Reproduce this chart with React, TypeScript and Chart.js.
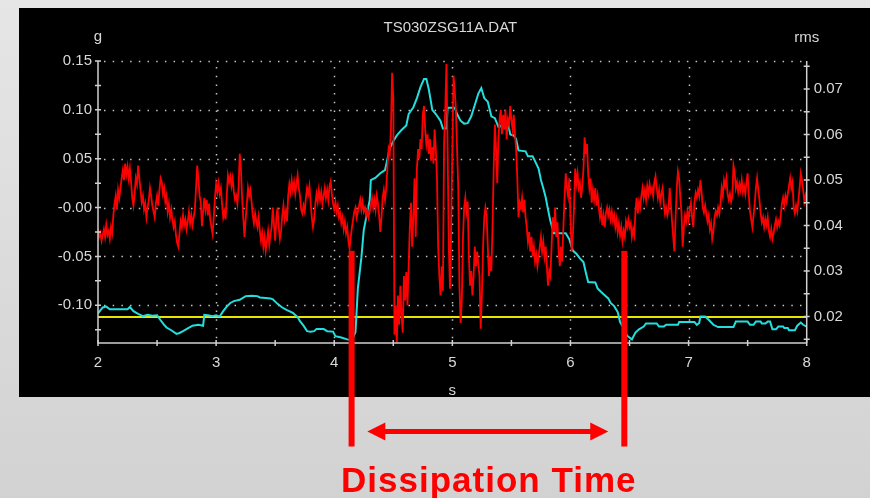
import React, { useEffect, useRef } from "react";
import { Chart, registerables } from "chart.js";

Chart.register(...registerables);

// ---------- data ----------
const SAMPLE_START = 2.0; // s
const SAMPLE_STEP = 0.01; // s

// acceleration signal (g), one value per 0.01 s from 2.00 s to 8.00 s
const accelG: number[] = [
  -0.022, -0.030, -0.026, -0.034, -0.028, -0.022, -0.030, -0.018, -0.028, -0.024,
  -0.032, -0.020, -0.026, -0.008, 0.004, 0.012, -0.002, 0.018, 0.010, 0.020,
  0.030, 0.038, 0.028, 0.045, 0.034, 0.042, 0.030, 0.040, 0.026, 0.010,
  0.002, 0.014, 0.030, 0.024, 0.043, 0.030, 0.018, 0.006, 0.012, -0.002,
  0.004, -0.010, 0.000, 0.008, 0.020, 0.012, 0.002, -0.004, -0.010, 0.004,
  0.012, 0.002, 0.018, 0.030, 0.026, 0.014, 0.020, 0.006, 0.012, -0.004,
  0.004, -0.010, -0.002, -0.012, -0.020, -0.014, -0.028, -0.036, -0.040, -0.026,
  -0.014, -0.020, -0.008, -0.018, -0.012, -0.022, -0.014, -0.004, -0.016, -0.008,
  -0.018, -0.010, -0.002, 0.020, 0.043, 0.030, 0.012, 0.006, -0.019, -0.004,
  0.010, -0.002, 0.008, -0.008, 0.004, -0.012, -0.020, -0.027, -0.010, 0.010,
  0.024, 0.016, 0.025, 0.014, 0.020, 0.004, -0.010, -0.004, -0.012, 0.012,
  0.033, 0.026, 0.032, 0.022, 0.030, 0.016, 0.008, 0.012, 0.004, 0.020,
  0.055, 0.040, 0.010, -0.010, -0.030, -0.012, 0.004, 0.020, 0.012, 0.018,
  0.006, -0.008, -0.016, -0.006, -0.014, -0.020, -0.010, -0.024, -0.034, -0.026,
  -0.040, -0.030, -0.044, -0.034, -0.024, -0.038, -0.028, -0.020, 0.000, -0.018,
  -0.034, -0.010, 0.000, -0.020, -0.032, -0.024, -0.008, 0.002, -0.012, -0.004,
  -0.014, 0.012, 0.024, 0.016, 0.028, 0.018, 0.026, 0.014, 0.024, 0.033,
  0.020, 0.012, -0.002, -0.006, 0.002, -0.004, 0.010, 0.020, 0.014, 0.022,
  0.006, -0.010, -0.020, -0.012, 0.004, 0.014, 0.006, 0.018, 0.008, 0.016,
  0.004, 0.012, 0.020, 0.010, 0.018, 0.008, 0.022, 0.027, 0.014, 0.004,
  -0.002, 0.006, -0.004, 0.002, -0.010, -0.006, -0.016, -0.010, -0.022, -0.014,
  -0.026, -0.020, -0.034, -0.042, -0.030, -0.020, -0.012, -0.004, 0.000, -0.010,
  -0.004, 0.002, 0.008, -0.002, 0.006, -0.004, 0.000, -0.008, -0.002, -0.010,
  -0.004, 0.002, 0.010, 0.000, 0.008, -0.002, 0.012, 0.004, -0.008, -0.025,
  -0.010, 0.010, 0.018, 0.008, 0.020, 0.040, 0.060, 0.055, 0.080, 0.138,
  0.112, -0.130, -0.100, -0.138, -0.090, -0.120, -0.080, -0.110, -0.128, -0.070,
  -0.095, -0.066, -0.100, -0.060, -0.020, 0.005, -0.040, -0.010, 0.030, -0.030,
  0.040, 0.060, 0.050, 0.070, 0.060, 0.095, 0.104, 0.080, 0.065, 0.075,
  0.055, 0.070, 0.048, 0.062, 0.045, 0.080, 0.060, 0.030, -0.040, -0.070,
  -0.090, -0.060, -0.085, 0.066, 0.100, 0.147, 0.060, -0.040, -0.083, -0.020,
  0.060, 0.135, 0.120, 0.100, 0.060, 0.020, -0.080, -0.118, -0.095, -0.030,
  0.000, 0.010, -0.004, 0.006, -0.050, -0.080, -0.065, -0.090, -0.070, -0.040,
  -0.060, -0.045, -0.058, -0.070, -0.124, -0.090, -0.040, -0.010, 0.000, -0.008,
  -0.040, -0.070, -0.050, -0.065, -0.020, 0.040, 0.085, 0.060, 0.025, 0.070,
  0.090, 0.100, 0.075, 0.095, 0.080, 0.100, 0.070, 0.090, 0.085, 0.104,
  0.090, 0.080, 0.095, 0.075, 0.060, 0.030, -0.010, 0.005, 0.000, 0.010,
  -0.005, 0.008, -0.010, -0.020, -0.035, -0.025, -0.045, -0.030, -0.050, -0.040,
  -0.055, -0.048, -0.060, -0.050, -0.040, -0.030, -0.045, -0.035, -0.050, -0.040,
  -0.060, -0.080, -0.065, -0.070, -0.040, -0.010, -0.025, 0.000, -0.030, -0.015,
  -0.045, -0.060, -0.040, -0.055, -0.020, 0.010, 0.035, 0.020, 0.012, 0.030,
  -0.010, -0.045, -0.030, 0.000, 0.040, 0.025, 0.035, 0.020, 0.025, 0.010,
  0.022, 0.040, 0.072, 0.055, 0.065, 0.035, 0.020, 0.030, 0.005, 0.018,
  0.008, 0.020, 0.002, 0.012, 0.000, -0.010, -0.002, -0.018, -0.008, -0.020,
  -0.006, 0.000, -0.008, -0.002, -0.012, -0.004, -0.014, -0.008, -0.020, -0.012,
  -0.025, -0.016, -0.028, -0.020, -0.034, -0.024, -0.030, -0.014, -0.020, -0.012,
  -0.020, -0.016, -0.030, -0.022, -0.028, -0.004, 0.010, -0.006, 0.006, 0.000,
  0.012, 0.020, 0.010, 0.018, 0.008, 0.022, 0.014, 0.024, 0.016, 0.020,
  0.012, 0.026, 0.032, 0.020, 0.010, 0.018, 0.006, 0.014, 0.020, 0.004,
  -0.006, 0.000, -0.008, -0.002, 0.020, 0.004, -0.014, -0.030, -0.045, -0.010,
  0.020, 0.037, 0.030, 0.010, -0.005, -0.040, -0.020, -0.008, -0.014, -0.004,
  -0.012, -0.002, 0.005, -0.010, -0.020, 0.006, 0.015, 0.010, 0.018, 0.012,
  0.028, 0.016, 0.000, -0.005, 0.002, -0.006, -0.014, -0.008, -0.022, -0.016,
  -0.032, -0.024, -0.010, -0.004, -0.008, 0.000, -0.006, 0.004, 0.020, 0.012,
  0.028, 0.022, 0.030, 0.014, 0.008, 0.014, 0.006, 0.012, 0.043, 0.036,
  0.020, 0.026, 0.016, 0.024, 0.018, 0.028, 0.016, 0.022, 0.014, 0.026,
  0.035, 0.012, -0.004, -0.012, -0.020, -0.008, 0.004, 0.020, 0.030, 0.018,
  0.008, -0.006, -0.015, -0.010, -0.020, -0.012, -0.018, -0.010, -0.024, -0.030,
  -0.022, -0.032, -0.026, -0.018, -0.012, -0.020, -0.014, -0.018, -0.008, 0.004,
  0.010, 0.002, 0.012, 0.006, 0.014, 0.022, 0.030, 0.020, 0.026, 0.000,
  -0.006, 0.002, -0.004, 0.008, 0.020, 0.035, 0.028, 0.018, 0.006, 0.012,
  0.004,
];

// running rms (right axis): [time s, rms]
const rmsSeries: [number, number][] = [
  [2.00, 0.0207], [2.04, 0.0220], [2.07, 0.0222], [2.10, 0.0216], [2.25, 0.0216],
  [2.27, 0.0221], [2.30, 0.0212], [2.34, 0.0206], [2.38, 0.0201], [2.42, 0.0204],
  [2.46, 0.0202], [2.50, 0.0203], [2.53, 0.0192], [2.56, 0.0182], [2.58, 0.0176],
  [2.62, 0.0170], [2.665, 0.0162], [2.69, 0.0164], [2.72, 0.0168], [2.76, 0.0174],
  [2.80, 0.0180], [2.85, 0.0182], [2.89, 0.0180], [2.90, 0.0204], [2.93, 0.0203],
  [2.97, 0.0201], [3.00, 0.0203], [3.03, 0.0200], [3.06, 0.0212], [3.09, 0.0222],
  [3.12, 0.0230], [3.15, 0.0234], [3.20, 0.0237], [3.25, 0.0245], [3.30, 0.0246],
  [3.35, 0.0245], [3.37, 0.0242], [3.42, 0.0241], [3.46, 0.0240], [3.48, 0.0238],
  [3.52, 0.0228], [3.56, 0.0220], [3.60, 0.0214], [3.65, 0.0208], [3.69, 0.0199],
  [3.71, 0.0190], [3.74, 0.0180], [3.77, 0.0168], [3.80, 0.0167], [3.83, 0.0168],
  [3.85, 0.0173], [3.91, 0.0173], [3.94, 0.0168], [3.99, 0.0167], [4.01, 0.0157],
  [4.06, 0.0154], [4.11, 0.0150], [4.15, 0.0148], [4.18, 0.0166], [4.20, 0.0262],
  [4.23, 0.0330], [4.25, 0.0390], [4.28, 0.0430], [4.30, 0.0455], [4.31, 0.0500],
  [4.35, 0.0505], [4.39, 0.0515], [4.43, 0.0522], [4.45, 0.0545], [4.47, 0.0570],
  [4.50, 0.0585], [4.53, 0.0598], [4.57, 0.0610], [4.61, 0.0620], [4.63, 0.0645],
  [4.67, 0.0660], [4.70, 0.0680], [4.73, 0.0704], [4.76, 0.0722], [4.78, 0.0722],
  [4.80, 0.0700], [4.82, 0.0670], [4.83, 0.0654], [4.86, 0.0645], [4.90, 0.0630],
  [4.92, 0.0613], [4.95, 0.0613], [4.96, 0.0659], [5.02, 0.0659], [5.04, 0.0645],
  [5.07, 0.0630], [5.10, 0.0624], [5.13, 0.0625], [5.16, 0.0640], [5.19, 0.0665],
  [5.22, 0.0690], [5.245, 0.0702], [5.27, 0.0680], [5.30, 0.0672], [5.33, 0.0640],
  [5.36, 0.0636], [5.39, 0.0617], [5.41, 0.0618], [5.43, 0.0628], [5.47, 0.0627],
  [5.49, 0.0600], [5.52, 0.0598], [5.54, 0.0590], [5.56, 0.0565], [5.62, 0.0563],
  [5.64, 0.0552], [5.68, 0.0552], [5.71, 0.0536], [5.73, 0.0525], [5.75, 0.0500],
  [5.77, 0.0482], [5.79, 0.0462], [5.81, 0.0435], [5.83, 0.0410], [5.86, 0.0383],
  [5.96, 0.0383], [5.99, 0.0370], [6.02, 0.0345], [6.05, 0.0338], [6.08, 0.0328],
  [6.11, 0.0320], [6.13, 0.0297], [6.15, 0.0276], [6.21, 0.0275], [6.23, 0.0262],
  [6.26, 0.0254], [6.29, 0.0247], [6.32, 0.0240], [6.34, 0.0230], [6.37, 0.0223],
  [6.40, 0.0210], [6.42, 0.0188], [6.45, 0.0175], [6.48, 0.0158], [6.52, 0.0150],
  [6.55, 0.0165], [6.58, 0.0172], [6.62, 0.0178], [6.64, 0.0185], [6.73, 0.0185],
  [6.75, 0.0178], [6.79, 0.0178], [6.81, 0.0182], [6.91, 0.0182], [6.92, 0.0188],
  [7.05, 0.0188], [7.07, 0.0182], [7.09, 0.0186], [7.10, 0.0200], [7.14, 0.0200],
  [7.17, 0.0193], [7.21, 0.0182], [7.25, 0.0177], [7.38, 0.0177], [7.40, 0.0189],
  [7.50, 0.0189], [7.52, 0.0182], [7.55, 0.0182], [7.57, 0.0189], [7.61, 0.0189],
  [7.62, 0.0185], [7.65, 0.0185], [7.67, 0.0189], [7.69, 0.0189], [7.71, 0.0172],
  [7.74, 0.0172], [7.76, 0.0178], [7.80, 0.0178], [7.81, 0.0175], [7.84, 0.0175],
  [7.85, 0.0170], [7.90, 0.0170], [7.92, 0.0180], [7.95, 0.0187], [7.97, 0.0182],
  [8.00, 0.0178],
];

const thresholdRms = 0.0199;
const thresholdSpan = [2, 8];

// axes
const xRange = [2, 8];
const gRange = [-0.1386, 0.15];
const rmsRange = [0.0142, 0.07615];

const xMajorTicks = [2, 3, 4, 5, 6, 7, 8];
const xMajorLabels = ["2", "3", "4", "5", "6", "7", "8"];
const xMinorTicks = [2.5, 3.5, 4.5, 5.5, 6.5, 7.5];

const gMajorTicks = [0.15, 0.1, 0.05, 0.0, -0.05, -0.1];
const gMajorLabels = ["0.15", "0.10", "0.05", "-0.00", "-0.05", "-0.10"];
const gMinorTicks = [0.125, 0.075, 0.025, -0.025, -0.075, -0.125];

const rmsMajorTicks = [0.07, 0.06, 0.05, 0.04, 0.03, 0.02];
const rmsMajorLabels = ["0.07", "0.06", "0.05", "0.04", "0.03", "0.02"];
const rmsMinorTicks = [0.075, 0.065, 0.055, 0.045, 0.035, 0.025, 0.015];

const chartTitle = "TS030ZSG11A.DAT";
const leftUnit = "g";
const rightUnit = "rms";
const xUnit = "s";

// annotation
const markerTimes = [4.147, 6.456];
const markerTopG = -0.0443;
const arrowTimes = [4.28, 6.32];
const annotationText = "Dissipation Time";

// ---------- styling ----------
const AXIS_COLOR = "#d0d0d0";
const TEXT_COLOR = "#d8d8d8";
const GRID_COLOR = "#c4c4c4";
const FONT = "Liberation Sans, Arial, sans-serif";

const near = (a: number, b: number) => Math.abs(a - b) < 1e-9;
const labelFor = (v: number, ticks: number[], labels: string[]) => {
  const i = ticks.findIndex((t) => near(t, v));
  return i >= 0 ? labels[i] : "";
};

const scopePlugin = {
  id: "scope",
  beforeDraw(chart: any) {
    const { ctx, width, height } = chart;
    ctx.save();
    const grad = ctx.createLinearGradient(0, 0, 0, height);
    grad.addColorStop(0, "#e6e6e6");
    grad.addColorStop(1, "#d2d2d2");
    ctx.fillStyle = grad;
    ctx.fillRect(0, 0, width, height);
    ctx.fillStyle = "#000000";
    ctx.fillRect(19, 8, width - 19, 389);
    ctx.restore();
  },
  beforeDatasetsDraw(chart: any) {
    const { ctx, chartArea } = chart;
    const xs = chart.scales.x;
    const ys = chart.scales.y;
    ctx.save();
    ctx.strokeStyle = GRID_COLOR;
    ctx.lineWidth = 1.5;
    ctx.setLineDash([1.5, 7.2]);
    gMajorTicks.forEach((v) => {
      const y = Math.round(ys.getPixelForValue(v)) + 0.5;
      ctx.beginPath();
      ctx.moveTo(chartArea.left + 6, y);
      ctx.lineTo(chartArea.right - 2, y);
      ctx.stroke();
    });
    xMajorTicks.slice(1, -1).forEach((v) => {
      const x = Math.round(xs.getPixelForValue(v)) + 0.5;
      ctx.beginPath();
      ctx.moveTo(x, chartArea.top + 6);
      ctx.lineTo(x, chartArea.bottom - 2);
      ctx.stroke();
    });
    ctx.restore();
  },
  afterDatasetsDraw(chart: any) {
    const { ctx, chartArea } = chart;
    const xs = chart.scales.x;
    const ys = chart.scales.y;
    const y1 = chart.scales.y1;
    const { left, right, top, bottom } = chartArea;
    ctx.save();
    // axis lines
    ctx.strokeStyle = AXIS_COLOR;
    ctx.lineWidth = 1.5;
    ctx.beginPath();
    ctx.moveTo(left, top);
    ctx.lineTo(left, bottom);
    ctx.lineTo(right, bottom);
    ctx.moveTo(right, top);
    ctx.lineTo(right, bottom);
    ctx.stroke();
    // tick marks crossing the axes
    const tick = 3;
    ctx.beginPath();
    [...xMajorTicks, ...xMinorTicks].forEach((v) => {
      const x = xs.getPixelForValue(v);
      ctx.moveTo(x, bottom - tick);
      ctx.lineTo(x, bottom + tick);
    });
    [...gMajorTicks, ...gMinorTicks].forEach((v) => {
      const y = ys.getPixelForValue(v);
      ctx.moveTo(left - tick, y);
      ctx.lineTo(left + tick, y);
    });
    [...rmsMajorTicks, ...rmsMinorTicks].forEach((v) => {
      const y = y1.getPixelForValue(v);
      ctx.moveTo(right - tick, y);
      ctx.lineTo(right + tick, y);
    });
    ctx.stroke();

    // titles
    ctx.fillStyle = TEXT_COLOR;
    ctx.font = `15px ${FONT}`;
    ctx.textAlign = "center";
    ctx.textBaseline = "alphabetic";
    ctx.fillText(chartTitle, (left + right) / 2 - 2, 32);
    ctx.fillText(leftUnit, left, 41);
    ctx.fillText(rightUnit, right, 42);
    ctx.fillText(xUnit, (left + right) / 2, 395);

    // annotation
    ctx.fillStyle = "#ff0000";
    ctx.strokeStyle = "#ff0000";
    const markTop = ys.getPixelForValue(markerTopG);
    const markBottom = 446.5;
    markerTimes.forEach((t) => {
      const x = xs.getPixelForValue(t);
      ctx.fillRect(x - 3, markTop, 6, markBottom - markTop);
    });
    const ax1 = xs.getPixelForValue(arrowTimes[0]);
    const ax2 = xs.getPixelForValue(arrowTimes[1]);
    const ay = 431.5;
    const head = 18;
    const half = 9;
    ctx.lineWidth = 5;
    ctx.beginPath();
    ctx.moveTo(ax1 + head - 2, ay);
    ctx.lineTo(ax2 - head + 2, ay);
    ctx.stroke();
    ctx.beginPath();
    ctx.moveTo(ax1, ay);
    ctx.lineTo(ax1 + head, ay - half);
    ctx.lineTo(ax1 + head, ay + half);
    ctx.closePath();
    ctx.fill();
    ctx.beginPath();
    ctx.moveTo(ax2, ay);
    ctx.lineTo(ax2 - head, ay - half);
    ctx.lineTo(ax2 - head, ay + half);
    ctx.closePath();
    ctx.fill();
    ctx.font = `bold 35px ${FONT}`;
    (ctx as any).letterSpacing = "1px";
    ctx.textAlign = "center";
    ctx.textBaseline = "alphabetic";
    ctx.fillText(annotationText, (ax1 + ax2) / 2 + 1, 491.7);
    ctx.restore();
  },
};

export default function App() {
  const canvasRef = useRef<HTMLCanvasElement | null>(null);

  useEffect(() => {
    if (!canvasRef.current) return;
    const signal = accelG.map((g, i) => ({ x: SAMPLE_START + i * SAMPLE_STEP, y: g }));
    const rms = rmsSeries.map(([t, v]) => ({ x: t, y: v }));
    const threshold = thresholdSpan.map((t) => ({ x: t, y: thresholdRms }));
    const tickFont = { family: FONT, size: 15 };

    const chart = new Chart(canvasRef.current, {
      type: "line",
      data: {
        datasets: [
          {
            label: "g",
            data: signal,
            yAxisID: "y",
            borderColor: "#ff0000",
            borderWidth: 1.8,
            pointRadius: 0,
            tension: 0,
            fill: false,
          },
          {
            label: "rms",
            data: rms,
            yAxisID: "y1",
            borderColor: "#22dede",
            borderWidth: 2,
            pointRadius: 0,
            tension: 0,
            fill: false,
          },
          {
            label: "threshold",
            data: threshold,
            yAxisID: "y1",
            borderColor: "#e6e600",
            borderWidth: 2,
            pointRadius: 0,
            tension: 0,
            fill: false,
          },
        ],
      },
      options: {
        responsive: false,
        animation: false,
        devicePixelRatio: 1,
        layout: { padding: { top: 61, left: 0, right: 0, bottom: 0 } },
        plugins: {
          legend: { display: false },
          tooltip: { enabled: false },
          title: { display: false },
        },
        scales: {
          x: {
            type: "linear",
            position: "bottom",
            min: xRange[0],
            max: xRange[1],
            grid: { display: false, drawTicks: false },
            border: { display: false },
            afterBuildTicks: (s: any) => {
              s.ticks = [...xMajorTicks, ...xMinorTicks].sort((a, b) => a - b).map((v) => ({ value: v }));
            },
            afterFit: (s: any) => {
              s.height = 155;
              s.paddingLeft = 0;
              s.paddingRight = 0;
            },
            ticks: {
              autoSkip: false,
              maxRotation: 0,
              padding: 11,
              color: TEXT_COLOR,
              font: tickFont,
              callback: (v: any) => labelFor(Number(v), xMajorTicks, xMajorLabels),
            },
          },
          y: {
            type: "linear",
            position: "left",
            min: gRange[0],
            max: gRange[1],
            grid: { display: false, drawTicks: false },
            border: { display: false },
            afterBuildTicks: (s: any) => {
              s.ticks = [...gMajorTicks, ...gMinorTicks].sort((a, b) => a - b).map((v) => ({ value: v }));
            },
            afterFit: (s: any) => {
              s.width = 98;
              s.paddingTop = 0;
              s.paddingBottom = 0;
            },
            ticks: {
              autoSkip: false,
              padding: 6,
              color: TEXT_COLOR,
              font: tickFont,
              callback: (v: any) => labelFor(Number(v), gMajorTicks, gMajorLabels),
            },
          },
          y1: {
            type: "linear",
            position: "right",
            min: rmsRange[0],
            max: rmsRange[1],
            grid: { display: false, drawTicks: false },
            border: { display: false },
            afterBuildTicks: (s: any) => {
              s.ticks = [...rmsMajorTicks, ...rmsMinorTicks].sort((a, b) => a - b).map((v) => ({ value: v }));
            },
            afterFit: (s: any) => {
              s.width = 63.3;
              s.paddingTop = 0;
              s.paddingBottom = 0;
            },
            ticks: {
              autoSkip: false,
              padding: 7,
              color: TEXT_COLOR,
              font: tickFont,
              callback: (v: any) => labelFor(Number(v), rmsMajorTicks, rmsMajorLabels),
            },
          },
        },
      } as any,
      plugins: [scopePlugin],
    });
    return () => chart.destroy();
  }, []);

  return (
    <div style={{ position: "absolute", left: 0, top: 0, width: 870, height: 498 }}>
      <canvas ref={canvasRef} width={870} height={498} style={{ display: "block" }} />
    </div>
  );
}
